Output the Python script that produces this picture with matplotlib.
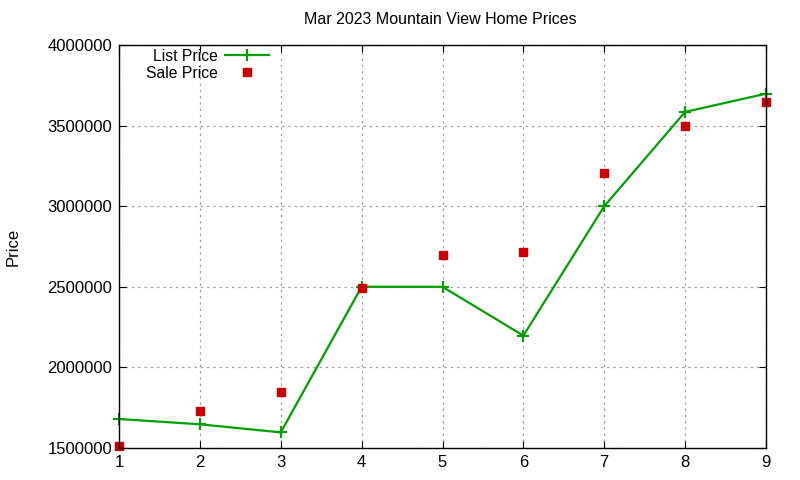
import matplotlib
matplotlib.use('Agg')
import matplotlib.pyplot as plt

# Mar 2023 Mountain View home prices
homes = [1, 2, 3, 4, 5, 6, 7, 8, 9]
list_price = [1680000, 1647000, 1597000, 2500000, 2500000, 2197000, 3000000, 3585000, 3698000]
sale_price = [1514000, 1731000, 1850000, 2490000, 2698000, 2718000, 3208000, 3498000, 3648000]
y_ticks = [1500000, 2000000, 2500000, 3000000, 3500000, 4000000]

plt.rcParams['font.family'] = ['Liberation Sans', 'DejaVu Sans']

fig = plt.figure(figsize=(8, 4.8), dpi=100)
ax = fig.add_axes([119 / 800, 1 - 448 / 480, (766 - 119) / 800, (448 - 45) / 480])

ax.plot(homes, list_price, color='#00a000', linewidth=1.6, marker='+',
        markersize=8, markeredgewidth=1.5, label='List Price', clip_on=False)
ax.plot(homes, sale_price, linestyle='none', color='#cc0000', marker='s',
        markersize=6, label='Sale Price', clip_on=False)

ax.set_xlim(1, 9)
ax.set_ylim(1500000, 4000000)
ax.set_xticks(homes)
ax.set_yticks(y_ticks)
ax.set_yticklabels([str(v) for v in y_ticks])
ax.tick_params(direction='in', top=True, right=True, labelsize=12, length=5, pad=5)
ax.grid(True, color='#a0a0a0', linestyle=(0, (2, 3)), linewidth=0.9)
for s in ax.spines.values():
    s.set_linewidth(1.0)

ax.set_ylabel('Price', fontsize=12, labelpad=19)
fig.text(440 / 800, 1 - 20 / 480, 'Mar 2023 Mountain View Home Prices',
         ha='center', va='center', fontsize=11.5)

leg = ax.legend(loc='upper right', bbox_to_anchor=(0.241, 1.006), frameon=False,
                markerfirst=False, fontsize=11.3, handlelength=2.75,
                borderaxespad=0.0, labelspacing=0.12, handletextpad=0.5)
for t in leg.get_texts():
    t.set_ha('right')

fig.savefig('out.png', dpi=100)
